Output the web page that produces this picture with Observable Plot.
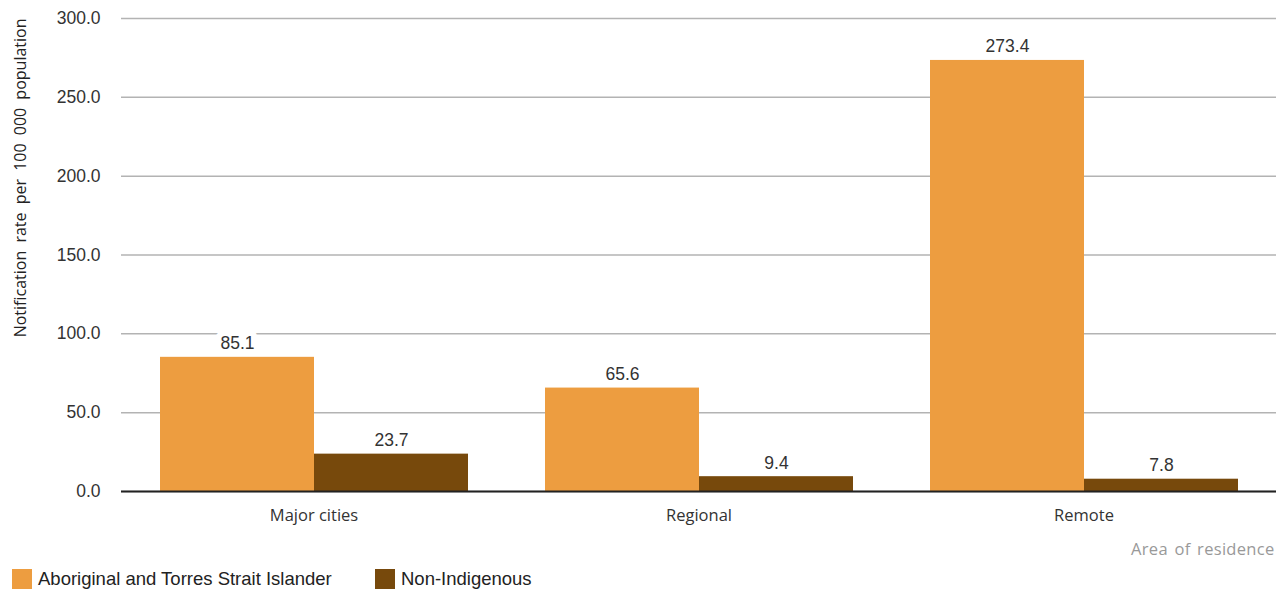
<!DOCTYPE html>
<html><head><meta charset="utf-8">
<script src="https://cdn.jsdelivr.net/npm/d3@7"></script>
<script src="https://cdn.jsdelivr.net/npm/@observablehq/plot@0.6"></script>
<style>
body{margin:0;background:#fff;font-family:"Liberation Sans",Arial,sans-serif;}
#chart svg{display:block;}
#legend{position:relative;height:29px;font-size:18.5px;color:#222;}
.item{position:absolute;top:8px;display:flex;align-items:center;}
.sw{width:20px;height:20px;margin-right:6px;}
</style></head><body>
<div id="chart"></div>
<div id="legend"></div>
<script>
const areas = ["Major cities", "Regional", "Remote"];
const groups = ["Aboriginal and Torres Strait Islander", "Non-Indigenous"];
const indigenousRates = [85.1, 65.6, 273.4];
const nonIndigenousRates = [23.7, 9.4, 7.8];
const yTicks = [0, 50, 100, 150, 200, 250, 300];
const colors = ["#ED9D40", "#77490C"];
const yLabel = "Notification rate per 100 000 population";
const xLabel = "Area of residence";

const data = areas.flatMap((a, i) => [
  {area: a, group: groups[0], rate: indigenousRates[i]},
  {area: a, group: groups[1], rate: nonIndigenousRates[i]}
]);

const chart = Plot.plot({
  width: 1277, height: 560,
  marginLeft: 120, marginRight: 0, marginTop: 18, marginBottom: 69,
  style: {fontFamily: "'Liberation Sans', Arial, sans-serif", background: "white"},
  fx: {domain: areas, padding: 0, label: null},
  x: {domain: groups, paddingInner: 0, paddingOuter: 0.25, axis: null},
  y: {domain: [0, 300]},
  color: {domain: groups, range: colors},
  marks: [
    Plot.gridY(yTicks, {stroke: "#b3b3b3", strokeOpacity: 1, strokeWidth: 1.5}),
    Plot.axisY(yTicks, {tickSize: 0, tickPadding: 21, tickFormat: d => d.toFixed(1), fontSize: 17.5, fill: "#333", label: null}),
    Plot.barY(data, {fx: "area", x: "group", y: "rate", fill: "group"}),
    Plot.ruleY([0], {stroke: "#222", strokeWidth: 2}),
    Plot.text(data, {fx: "area", x: "group", y: "rate", text: d => d.rate.toFixed(1), dy: -8, lineAnchor: "bottom", fontSize: 17.5, fill: "#333", stroke: "white", strokeWidth: 12}),
    Plot.axisFx({anchor: "bottom", tickSize: 0, tickPadding: 18, fontSize: 16.5, fill: "#333", fontFamily: "'Open Sans', sans-serif", label: null}),
    Plot.text([xLabel], {fx: () => areas[2], frameAnchor: "bottom-right", text: d => d, textAnchor: "end", lineAnchor: "middle", dy: 58, dx: -2, fontSize: 16.5, fill: "#999", fontFamily: "'Open Sans', sans-serif"}),
    Plot.text([yLabel], {fx: () => areas[0], frameAnchor: "top-left", text: d => d, rotate: -90, textAnchor: "end", dx: -107, fontSize: 16, fill: "#222", fontFamily: "'Open Sans', sans-serif"})
  ]
});
document.getElementById("chart").append(chart);
d3.select(chart).selectAll("text").filter(function() { return this.textContent === yLabel; }).style("word-spacing", "4px");
d3.select(chart).selectAll("text").filter(function() { return this.textContent === xLabel; }).style("letter-spacing", "0.3px").style("word-spacing", "2px");

const legend = document.getElementById("legend");
const lx = [12, 375];
groups.forEach((g, i) => {
  const it = document.createElement("div");
  it.className = "item";
  it.style.left = lx[i] + "px";
  it.innerHTML = `<div class="sw" style="background:${colors[i]}"></div><span>${g}</span>`;
  legend.append(it);
});
</script>
</body></html>
